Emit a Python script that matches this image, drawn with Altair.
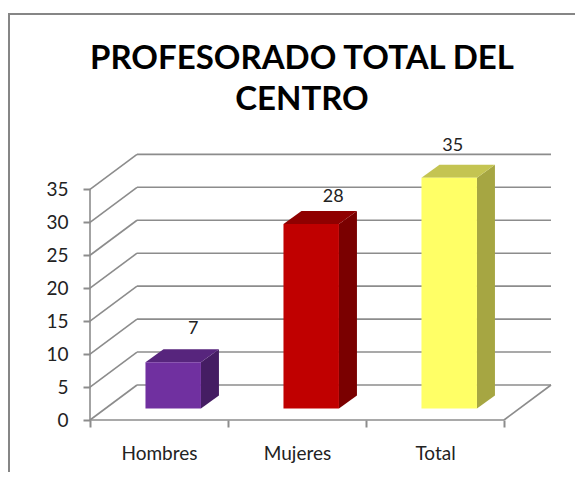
import altair as alt
import pandas as pd

categories = ["Hombres", "Mujeres", "Total"]
values = [7, 28, 35]
front_colors = ["#7030A0", "#C00000", "#FFFF66"]
top_colors = ["#57257D", "#8F0000", "#C4C452"]
side_colors = ["#451D63", "#7A0000", "#A6A642"]
label_shift_x = [0.145, 0.16, 0.025]
label_shift_y = [0.0, -0.9, -0.15]
y_ticks = [0, 5, 10, 15, 20, 25, 30, 35]
x_ticks = [0, 1, 2, 3]
label_positions = [0.5, 1.5, 2.5]
title_lines = ["PROFESORADO  TOTAL DEL", "CENTRO"]

GRID = "#8C8C8C"
FONT = "Lato"
W, H = 567, 464
X0, Y0 = 82, 412          # pixel position of the origin within the chart
PX, PY = 138.0, 6.59      # pixels per unit
WALL_X, WALL_Y = 47 / PX, 35 / PY
BAR_L, BAR_W = 0.402, 0.402
BAR_BASE = 1.75
BAR_X, BAR_Y = 18 / PX, 13 / PY
WALL_RIGHT = 3 + WALL_X

x_scale = alt.Scale(domain=[-X0 / PX, (W - X0) / PX], nice=False, zero=False)
y_scale = alt.Scale(domain=[-(H - Y0) / PY, Y0 / PY], nice=False, zero=False)

# wall, floor and axis lines
seg = []
for v in y_ticks:
    seg.append(dict(a=0, b=WALL_X, c=v, d=v + WALL_Y))
    seg.append(dict(a=WALL_X, b=WALL_RIGHT, c=v + WALL_Y, d=v + WALL_Y))
seg.append(dict(a=0, b=0, c=0, d=35))
seg.append(dict(a=0, b=3, c=0, d=0))
seg.append(dict(a=3, b=WALL_RIGHT, c=0, d=WALL_Y))
segments = pd.DataFrame(seg)

front, side, top, labels = [], [], [], []
for i, (c, v) in enumerate(zip(categories, values)):
    l = i + BAR_L
    r = l + BAR_W
    b = BAR_BASE
    t = b + v
    front.append(dict(fill=front_colors[i], l=l, r=r, b=b, t=t))
    side.append(dict(fill=side_colors[i], x=r, lo=b, hi=t))
    side.append(dict(fill=side_colors[i], x=r + BAR_X, lo=b + BAR_Y, hi=t + BAR_Y))
    top.append(dict(fill=top_colors[i], y=t, x=l, x2=r))
    top.append(dict(fill=top_colors[i], y=t + BAR_Y, x=l + BAR_X, x2=r + BAR_X))
    labels.append(dict(x=(l + r) / 2 + label_shift_x[i], y=t + BAR_Y + label_shift_y[i], txt=str(v)))

fill = alt.Color("fill:N", scale=None, legend=None)

label_expr = " : ".join(
    f"datum.value === {p} ? '{c}'" for p, c in zip(label_positions, categories)
) + " : ''"

x_axis = alt.Axis(
    values=sorted(x_ticks + label_positions), title=None, grid=False, domain=False,
    offset=-(H - Y0), tickColor=GRID, tickSize=7, tickWidth=2,
    tickOpacity={"condition": {"test": "datum.value % 1 === 0", "value": 1}, "value": 0},
    labelExpr=label_expr, labelFont=FONT, labelFontSize=19, labelColor="#222222",
    labelPadding=17, labelOverlap=False, labelFlush=False, labelAngle=0,
)
y_axis = alt.Axis(
    values=y_ticks, title=None, grid=False, domain=False,
    offset=-X0, tickColor=GRID, tickSize=7, tickWidth=2,
    labelFont=FONT, labelFontSize=19, labelColor="#222222", labelPadding=15,
    labelOverlap=False, labelFlush=False,
)

lines = alt.Chart(segments).mark_rule(color=GRID, strokeWidth=1.6).encode(
    x=alt.X("a:Q", scale=x_scale, axis=x_axis),
    x2="b:Q",
    y=alt.Y("c:Q", scale=y_scale, axis=y_axis),
    y2="d:Q",
)
front_m = alt.Chart(pd.DataFrame(front)).mark_rect().encode(
    x=alt.X("l:Q", scale=x_scale), x2="r:Q",
    y=alt.Y("b:Q", scale=y_scale), y2="t:Q",
    color=fill,
)
side_m = alt.Chart(pd.DataFrame(side)).mark_area(interpolate="linear", orient="vertical").encode(
    x=alt.X("x:Q", scale=x_scale),
    y=alt.Y("lo:Q", scale=y_scale), y2="hi:Q",
    color=fill,
)
top_m = alt.Chart(pd.DataFrame(top)).mark_area(interpolate="linear", orient="horizontal").encode(
    y=alt.Y("y:Q", scale=y_scale),
    x=alt.X("x:Q", scale=x_scale), x2="x2:Q",
    color=fill,
)
text_m = alt.Chart(pd.DataFrame(labels)).mark_text(
    font=FONT, fontSize=18, color="#222222", dy=-20, baseline="middle"
).encode(
    x=alt.X("x:Q", scale=x_scale),
    y=alt.Y("y:Q", scale=y_scale),
    text="txt:N",
)
frame_top = alt.Chart(pd.DataFrame({"k": [0]})).mark_rule(color="#868686", strokeWidth=2).encode(
    x=alt.value(0), x2=alt.value(W), y=alt.value(6)
)
frame_left = alt.Chart(pd.DataFrame({"k": [0]})).mark_rule(color="#868686", strokeWidth=2).encode(
    x=alt.value(1), y=alt.value(5), y2=alt.value(H)
)

chart = (
    alt.layer(frame_top, frame_left, lines, side_m, top_m, front_m, text_m)
    .properties(
        width=W, height=H, padding=0,
        autosize=alt.AutoSizeParams(type="none"),
        title=alt.TitleParams(
            text=title_lines, font=FONT, fontSize=33, fontWeight="bold", color="#000000",
            anchor="start", align="center", baseline="top", dx=295, dy=80.5, offset=-28,
            lineHeight=41, orient="top",
        ),
    )
    .configure_view(stroke=None)
)
chart.save("out.html", embed_options={"renderer": "svg", "actions": False})
